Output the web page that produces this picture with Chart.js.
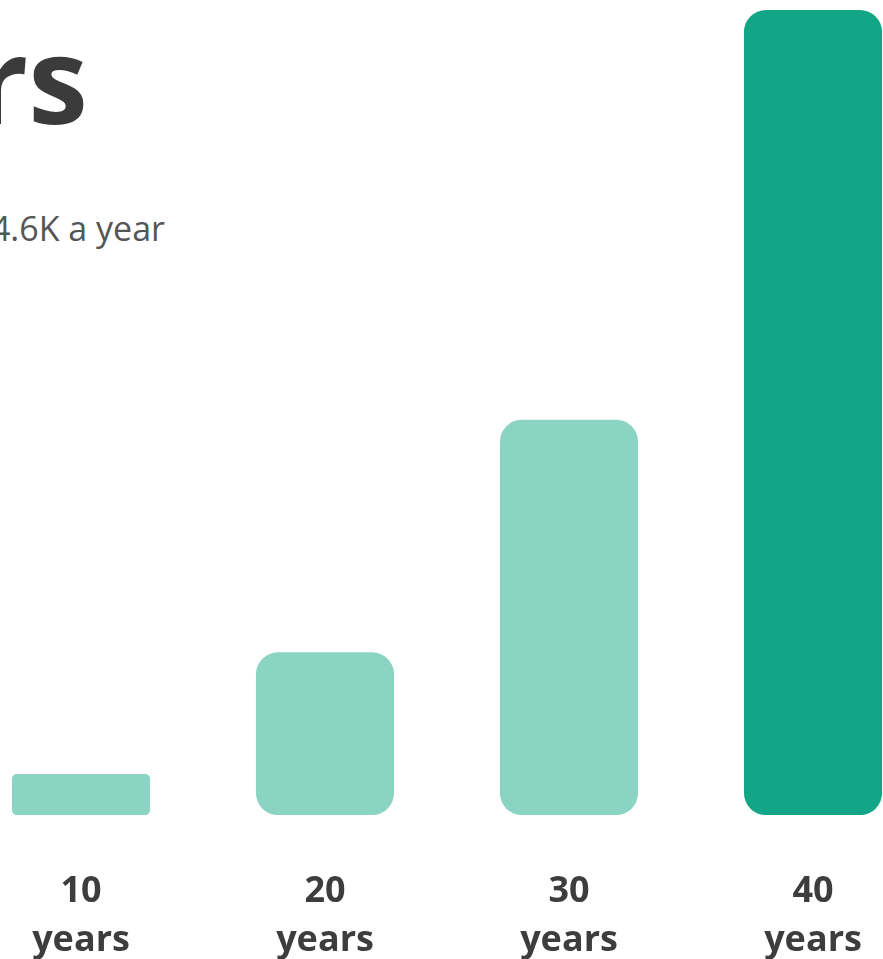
<!DOCTYPE html>
<html>
<head>
<meta charset="utf-8">
<script src="https://cdn.jsdelivr.net/npm/chart.js@4.4.0/dist/chart.umd.min.js"></script>
<style>
  html, body { margin: 0; padding: 0; background: #fff; overflow: hidden; width: 883px; height: 959px; }
  body { position: relative; font-family: "Open Sans", sans-serif; }
  #title { position: absolute; top: 18px; right: 795px; font-size: 120px; line-height: 120px; font-weight: 700; color: #3b3b3b; white-space: nowrap; }
  #subtitle { position: absolute; top: 211px; right: 718px; font-size: 34px; line-height: 34px; color: #555; white-space: nowrap; }
  #wrap { position: absolute; left: -41px; top: 0; width: 976px; height: 1016px; }
</style>
</head>
<body>
<div id="title">rs</div>
<div id="subtitle">4.6K a year</div>
<div id="wrap"><canvas id="myChart" width="976" height="1016"></canvas></div>
<script>
const periods = [['10', 'years'], ['20', 'years'], ['30', 'years'], ['40', 'years']]
// savings balance, thousands
const balances = [46, 182, 442, 900]
const barColors = ['#8bd3c3', '#8bd3c3', '#8bd3c3', '#12a586']
const corners = [5, 22, 22, 22]

const chart = document.querySelector('#myChart')

const myChart = new Chart(chart, {
    type: 'bar',
    data: {
        labels: periods,
        datasets: [{
            label: 'Balance',
            data: balances,
            backgroundColor: barColors,
            borderRadius: corners,
            borderSkipped: false,
            categoryPercentage: 1,
            barPercentage: 0.566
        }]
    },
    options: {
        responsive: false,
        animation: false,
        layout: { padding: { top: 10, bottom: 7, left: 0, right: 0 } },
        plugins: {
            legend: { display: false },
            tooltip: { enabled: false }
        },
        scales: {
            x: {
                grid: { display: false },
                border: { display: false },
                ticks: {
                    color: '#3d3d3d',
                    padding: 44,
                    autoSkip: false,
                    maxRotation: 0,
                    font: { family: 'Open Sans', size: 36, weight: 'bold', lineHeight: 1.36 }
                }
            },
            y: {
                display: false,
                min: 0,
                max: 900
            }
        }
    }
})
</script>
</body>
</html>
